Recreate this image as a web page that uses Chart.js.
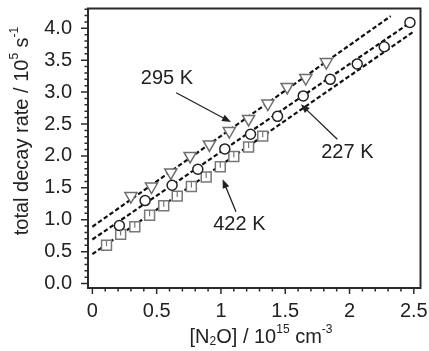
<!DOCTYPE html>
<html>
<head>
<meta charset="UTF-8">
<title>total decay rate vs [N2O]</title>
<script src="https://cdn.jsdelivr.net/npm/chart.js"></script>
<style>
  html, body { margin: 0; padding: 0; background: #fff; }
  #wrap { width: 429px; height: 351px; }
</style>
</head>
<body>
<div id="wrap"><canvas id="grafica"></canvas></div>
<script>
// measured points (x in 1e15 cm^-3, y in 1e5 s^-1)
const x227 = [0.21, 0.41, 0.62, 0.82, 1.03, 1.23, 1.44, 1.64, 1.85, 2.06, 2.27, 2.47];
const y227 = [0.91, 1.30, 1.54, 1.79, 2.11, 2.34, 2.62, 2.94, 3.20, 3.44, 3.71, 4.09];
const x295 = [0.30, 0.46, 0.61, 0.76, 0.91, 1.065, 1.215, 1.365, 1.515, 1.66, 1.82];
const y295 = [1.37, 1.52, 1.74, 2.00, 2.18, 2.39, 2.58, 2.82, 3.08, 3.22, 3.47];
const x422 = [0.11, 0.22, 0.33, 0.445, 0.555, 0.66, 0.77, 0.885, 0.995, 1.10, 1.215, 1.325];
const y422 = [0.60, 0.77, 0.89, 1.07, 1.22, 1.37, 1.52, 1.67, 1.83, 1.99, 2.14, 2.31];

// linear fits (end points)
const fitX295 = [0, 2.32], fitY295 = [0.89, 4.19];
const fitX227 = [0, 2.48], fitY227 = [0.69, 4.10];
const fitX422 = [0, 2.50], fitY422 = [0.46, 3.95];

const xTicks = [0, 0.5, 1, 1.5, 2, 2.5];
const yTicks = [0, 0.5, 1, 1.5, 2, 2.5, 3, 3.5, 4];

const FONT = '"Liberation Sans", Arial, sans-serif';
const TXT = '#222';

const pts = (xs, ys) => xs.map((x, i) => ({ x: x, y: ys[i] }));

function fitLine(xs, ys) {
  return {
    type: 'line', data: pts(xs, ys), borderColor: '#111', borderWidth: 2.2,
    borderDash: [4.5, 2.5], pointRadius: 0, fill: false, order: 5
  };
}

// labels with arrows, in data units
const notas = [
  { text: '295 K', x: 0.58, y: 3.21, from: [0.652, 2.99], to: [1.078, 2.53] },
  { text: '227 K', x: 1.983, y: 2.046, from: [1.905, 2.26], to: [1.621, 2.81] },
  { text: '422 K', x: 1.143, y: 0.92, from: [1.117, 1.125], to: [1.013, 1.636] }
];

function richText(ctx, parts, cx, cy) {
  const big = '20px ' + FONT, small = '12px ' + FONT;
  let w = 0;
  parts.forEach(p => { ctx.font = p.s ? small : big; w += ctx.measureText(p.t).width; });
  let x = cx - w / 2;
  ctx.textAlign = 'left';
  ctx.textBaseline = 'middle';
  parts.forEach(p => {
    ctx.font = p.s ? small : big;
    const dy = p.s === 'sup' ? -7 : (p.s === 'sub' ? 5 : 0);
    ctx.fillText(p.t, x, cy + dy);
    x += ctx.measureText(p.t).width;
  });
}

const marcoPlugin = {
  id: 'marco',
  afterDraw(chart) {
    const ctx = chart.ctx, a = chart.chartArea;
    const xs = chart.scales.x, ys = chart.scales.y;
    ctx.save();
    ctx.strokeStyle = '#2a2a2a';
    // minor + major ticks, outward
    ctx.lineWidth = 1.5;
    ctx.beginPath();
    for (let i = 0; i <= 25; i++) {
      const px = xs.getPixelForValue(i / 10);
      const len = i % 5 === 0 ? 6 : 3.5;
      ctx.moveTo(px, a.bottom); ctx.lineTo(px, a.bottom + len);
    }
    for (let i = 0; i <= 43; i++) {
      const py = ys.getPixelForValue(i / 10);
      if (py < a.top) break;
      const len = i % 5 === 0 ? 7 : 3.5;
      ctx.moveTo(a.left, py); ctx.lineTo(a.left - len, py);
    }
    ctx.stroke();
    // frame
    ctx.lineWidth = 2;
    ctx.strokeRect(a.left, a.top, a.right - a.left, a.bottom - a.top);

    // annotations
    ctx.fillStyle = TXT;
    ctx.strokeStyle = '#222';
    ctx.font = '20px ' + FONT;
    ctx.textAlign = 'center';
    ctx.textBaseline = 'middle';
    notas.forEach(n => {
      ctx.fillText(n.text, xs.getPixelForValue(n.x), ys.getPixelForValue(n.y));
      const x1 = xs.getPixelForValue(n.from[0]), y1 = ys.getPixelForValue(n.from[1]);
      const x2 = xs.getPixelForValue(n.to[0]), y2 = ys.getPixelForValue(n.to[1]);
      const ang = Math.atan2(y2 - y1, x2 - x1);
      ctx.lineWidth = 1.3;
      ctx.beginPath();
      ctx.moveTo(x1, y1);
      ctx.lineTo(x2 - 6 * Math.cos(ang), y2 - 6 * Math.sin(ang));
      ctx.stroke();
      ctx.beginPath();
      ctx.moveTo(x2, y2);
      ctx.lineTo(x2 - 9 * Math.cos(ang) + 3.5 * Math.sin(ang), y2 - 9 * Math.sin(ang) - 3.5 * Math.cos(ang));
      ctx.lineTo(x2 - 9 * Math.cos(ang) - 3.5 * Math.sin(ang), y2 - 9 * Math.sin(ang) + 3.5 * Math.cos(ang));
      ctx.closePath();
      ctx.fill();
    });

    // axis titles
    richText(ctx, [{ t: '[N' }, { t: '2', s: 'sub' }, { t: 'O] / 10' }, { t: '15', s: 'sup' },
                   { t: ' cm' }, { t: '-3', s: 'sup' }], 261, 337);
    ctx.translate(22, 131);
    ctx.rotate(-Math.PI / 2);
    richText(ctx, [{ t: 'total decay rate / 10' }, { t: '5', s: 'sup' }, { t: ' s' }, { t: '-1', s: 'sup' }], 0, 0);
    ctx.restore();
  },
  afterDatasetsDraw(chart) {
    // small mark inside each square
    const meta = chart.getDatasetMeta(2);
    const ctx = chart.ctx;
    ctx.save();
    ctx.strokeStyle = '#777';
    ctx.lineWidth = 1.2;
    ctx.beginPath();
    meta.data.forEach(p => { ctx.moveTo(p.x, p.y - 5); ctx.lineTo(p.x, p.y + 1); });
    ctx.stroke();
    ctx.restore();
  }
};

new Chart(document.getElementById('grafica'), {
  type: 'scatter',
  data: {
    datasets: [
      { label: '227 K', data: pts(x227, y227), pointStyle: 'circle', pointRadius: 5,
        borderColor: '#222', backgroundColor: '#fff', pointBorderWidth: 1.5, order: 1 },
      { label: '295 K', data: pts(x295, y295), pointStyle: 'triangle', pointRotation: 180, pointRadius: 7,
        borderColor: '#6e6e6e', backgroundColor: '#fff', pointBorderWidth: 1.5, order: 2 },
      { label: '422 K', data: pts(x422, y422), pointStyle: 'rect', pointRadius: 7,
        borderColor: '#777', backgroundColor: '#fff', pointBorderWidth: 1.5, order: 3 },
      fitLine(fitX295, fitY295),
      fitLine(fitX227, fitY227),
      fitLine(fitX422, fitY422)
    ]
  },
  options: {
    responsive: true,
    maintainAspectRatio: false,
    animation: false,
    events: [],
    layout: { padding: { left: 0, right: 7, top: 2, bottom: 0 } },
    plugins: { legend: { display: false }, tooltip: { enabled: false } },
    scales: {
      x: {
        type: 'linear', min: -0.034, max: 2.552,
        grid: { display: false, drawTicks: false }, border: { display: false },
        afterBuildTicks: s => { s.ticks = xTicks.map(v => ({ value: v })); },
        ticks: { padding: 11, color: TXT, font: { family: FONT, size: 20 }, maxRotation: 0,
                 callback: v => String(v) },
        afterFit: s => { s.height = 63; s.paddingLeft = 0; s.paddingRight = 0; }
      },
      y: {
        type: 'linear', min: -0.07, max: 4.31,
        grid: { display: false, drawTicks: false }, border: { display: false },
        afterBuildTicks: s => { s.ticks = yTicks.map(v => ({ value: v })); },
        ticks: { padding: 16, color: TXT, font: { family: FONT, size: 20 },
                 callback: v => v.toFixed(1) },
        afterFit: s => { s.width = 88; s.paddingTop = 0; s.paddingBottom = 0; }
      }
    }
  },
  plugins: [marcoPlugin]
});
</script>
</body>
</html>
